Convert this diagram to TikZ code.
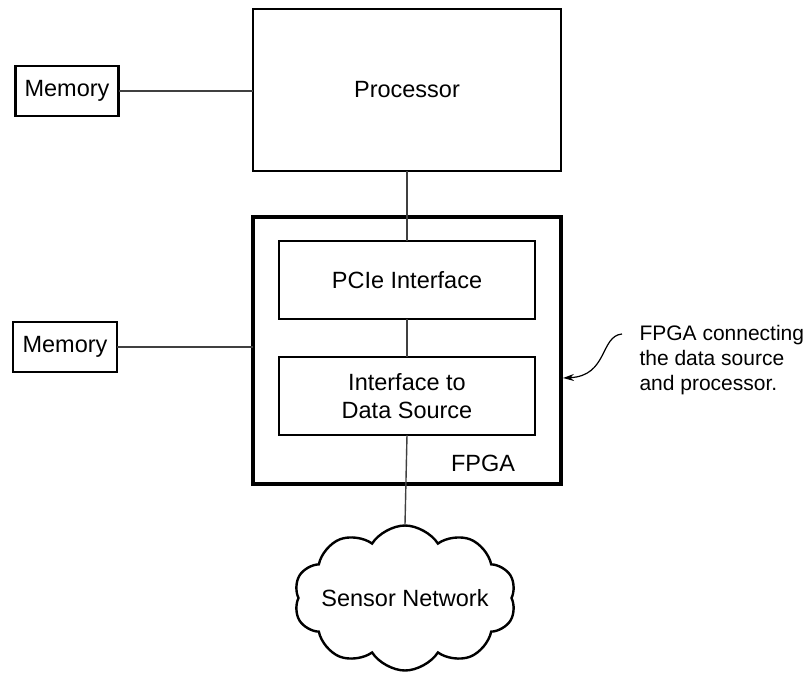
\documentclass[tikz,border=0pt]{standalone}
\usepackage{fontspec}
\setmainfont{Liberation Sans}
\usetikzlibrary{shapes.symbols,arrows.meta,calc}
\tikzset{
    blk/.style={draw, line width=2.6pt, inner sep=0pt, outer sep=0pt, align=center},
    wire/.style={line width=1.4pt, color=black!75}
}
\begin{document}
\begin{tikzpicture}[x=1pt, y=-1pt, font=\fontsize{23.5}{28}\selectfont]
            \useasboundingbox (0,0) rectangle (809,675);
            \node[blk, minimum width=308pt, minimum height=162pt] (proc) at (407,90) {Processor};
            \node[blk, minimum width=103pt, minimum height=50pt] (memtop) at (67,91) {Memory};
            \node[blk, line width=3.4pt, minimum width=308pt, minimum height=267pt] (fpga) at (407,350.5) {};
            \node[blk, minimum width=256pt, minimum height=78pt] (pcie) at (407,280) {PCIe Interface};
            \node[blk, minimum width=256pt, minimum height=78pt] (ifds) at (407,396) {Interface to\\Data Source};
            \node[blk, minimum width=104pt, minimum height=50pt] (membot) at (65,347) {Memory};
            \node (fpgalabel) at (483,463) {FPGA};
            \node[draw, line width=2.4pt, shape=cloud, cloud puffs=10, cloud puff arc=115,
                  inner sep=0pt, minimum width=222pt, minimum height=145pt] (sensors) at (405,598) {};
            \node (sensorlabel) at (sensors.center) {Sensor Network};
            \node[anchor=west, align=left, font=\fontsize{21}{25}\selectfont] (note) at (636,360) {FPGA connecting\\the data source\\and processor.};
            \draw[wire] (memtop.east) -- (memtop.east -| proc.west);
            \draw[wire] (membot.east) -- (membot.east -| fpga.west);
            \draw[wire] (proc.south) -- (pcie.north);
            \draw[wire] (pcie.south) -- (ifds.north);
            \draw[wire] (ifds.south) -- (sensors.north);
            \coordinate (notestart) at ($(note.west)+(-14,-26)$);
            \coordinate (notetip) at ($(fpga.east)+(2,27.5)$);
            \draw[line width=1.2pt, -{Stealth[length=11pt, width=7pt]}] (notestart) .. controls (600,336) and (608,376) .. (notetip);
        \end{tikzpicture}
\end{document}
